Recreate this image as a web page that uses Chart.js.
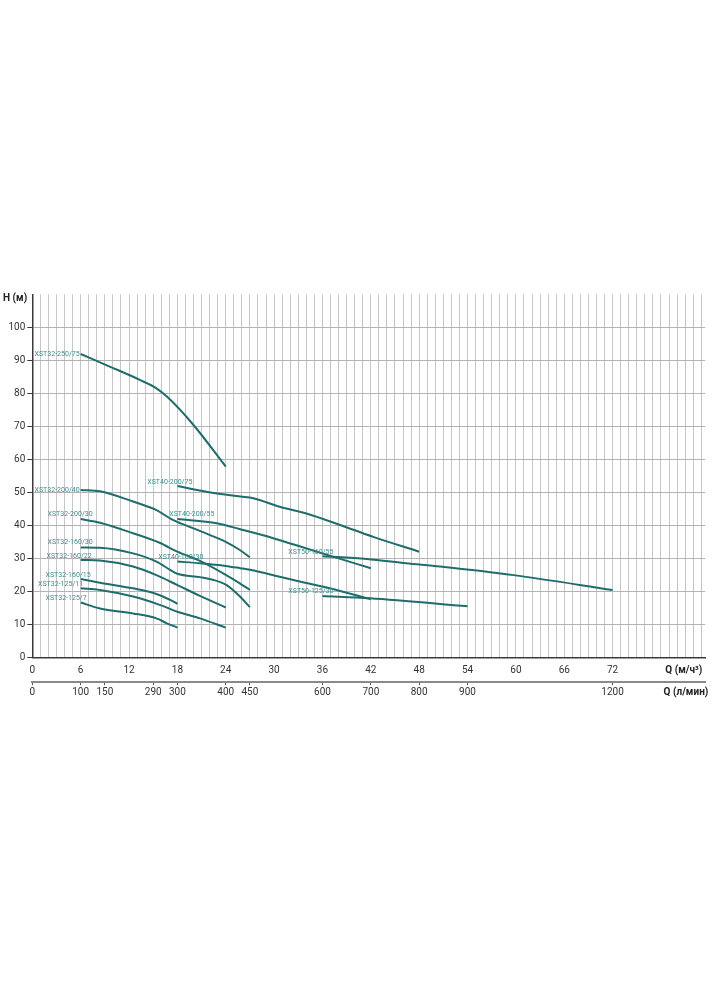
<!DOCTYPE html>
<html><head><meta charset="utf-8">
<script src="https://cdn.jsdelivr.net/npm/chart.js@4.4.0/dist/chart.umd.min.js"></script>
<style>html,body{margin:0;padding:0;background:#fff;}#wrap{width:713px;height:992px;}</style>
</head><body><div id="wrap"><canvas id="c" width="713" height="992"></canvas></div>
<script>
// ---- axis tick data ----
const qLabelStep = 6;
const qLabelMax = 72;
const hTicks = [0,10,20,30,40,50,60,70,80,90,100];
const lpmLabels = ['0','100','150','290','300','400','450','600','700','800','900','1200'];
const lpmPositions = [0,6,9,15,18,24,27,36,42,48,54,72];

// ---- curve names ----
const curveNames = ['XST32-250/75','XST32-200/40','XST32-200/30','XST32-160/30','XST32-160/22','XST32-160/15','XST32-125/11','XST32-125/7','XST40-200/75','XST40-200/55','XST40-160/30','XST50-160/55','XST50-125/30'];

// ---- curve values (Q m3/h, H m) ----
const q_32_250_75 = [6, 9.6, 13.4, 15.4, 16.7, 20, 24];
const h_32_250_75 = [91.9, 88.1, 84, 81.5, 79, 70.4, 57.8];
const q_32_200_40 = [6, 8.4, 12.5, 15.4, 17.3, 18.5, 20.8, 22.9, 24, 25.7, 27];
const h_32_200_40 = [50.7, 50.3, 47.2, 44.6, 41.8, 40.5, 38.3, 36.2, 35, 32.6, 30.3];
const q_32_200_30 = [6, 8.4, 12.5, 15.8, 18, 20.8, 24, 25.7, 27];
const h_32_200_30 = [41.9, 40.8, 37.6, 34.7, 32, 29.2, 25, 22.5, 20.4];
const q_32_160_30 = [6, 8.4, 12.5, 15.4, 17.1, 18, 20.8, 22.4, 24, 25.7, 27];
const h_32_160_30 = [33.3, 33.2, 31.5, 29, 26.5, 25.3, 24.3, 23.5, 22, 18.6, 15.2];
const q_32_160_22 = [6, 8.4, 12.5, 15.4, 18, 20.8, 24];
const h_32_160_22 = [29.5, 29.3, 27.5, 24.9, 21.9, 18.6, 15.1];
const q_32_160_15 = [6, 8.4, 12.5, 15.4, 17.1, 18];
const h_32_160_15 = [23.7, 22.6, 20.9, 19.2, 17.4, 16.2];
const q_32_125_11 = [6, 8.4, 12.5, 15.8, 18, 20.8, 24];
const h_32_125_11 = [20.9, 20.4, 18.4, 15.9, 13.8, 11.8, 9.0];
const q_32_125_7 = [6, 8.4, 12.5, 15.4, 16.7, 18];
const h_32_125_7 = [16.6, 14.8, 13.3, 11.8, 10.3, 9.0];
const q_40_200_75 = [18, 21.6, 25.8, 27.4, 30.7, 34, 38.2, 42.3, 48];
const h_40_200_75 = [51.9, 50.2, 48.7, 48.2, 45.6, 43.6, 40.1, 36.5, 32.0];
const q_40_200_55 = [18, 22.9, 25.8, 29.9, 34, 37.3, 42];
const h_40_200_55 = [41.9, 40.6, 38.8, 36.1, 33.0, 30.5, 27.0];
const q_40_160_30 = [18, 20.8, 24, 25.8, 27, 30.7, 32.4, 36.9, 42];
const h_40_160_30 = [29.0, 28.5, 27.7, 27.0, 26.5, 24.4, 23.4, 20.9, 17.6];
const q_50_160_55 = [36, 41.5, 46.4, 50.6, 59.7, 72];
const h_50_160_55 = [30.6, 29.8, 28.5, 27.5, 24.9, 20.4];
const q_50_125_30 = [36, 41.9, 54];
const h_50_125_30 = [18.6, 17.9, 15.5];

const qSeries = [q_32_250_75,q_32_200_40,q_32_200_30,q_32_160_30,q_32_160_22,q_32_160_15,q_32_125_11,q_32_125_7,q_40_200_75,q_40_200_55,q_40_160_30,q_50_160_55,q_50_125_30];
const hSeries = [h_32_250_75,h_32_200_40,h_32_200_30,h_32_160_30,h_32_160_22,h_32_160_15,h_32_125_11,h_32_125_7,h_40_200_75,h_40_200_55,h_40_160_30,h_50_160_55,h_50_125_30];

// ---- label placement offsets (px) relative to curve start ----
const labelDx = [-1,-1,12,12,11,10,2.5,6,15,37,26,11,11];
const labelDy = [0,0,-5,-5,-4,-4,-3.6,-4,-4,-5,-4,-4,-5];

const LINE = '#1d6d6c';
const LABEL = '#3a8e8d';
const FONT = 'Roboto';

const datasets = curveNames.map((name, i) => ({
  label: name,
  data: qSeries[i].map((q, j) => ({x: q, y: hSeries[i][j]})),
  borderColor: LINE,
  borderWidth: 2,
  pointRadius: 0,
  fill: false,
  cubicInterpolationMode: 'monotone',
  xAxisID: 'x',
  yAxisID: 'y'
}));

const curveLabels = {
  id: 'curveLabels',
  afterDatasetsDraw(chart) {
    const ctx = chart.ctx;
    const xs = chart.scales.x, ys = chart.scales.y;
    ctx.save();
    ctx.font = '7px ' + FONT;
    ctx.fillStyle = LABEL;
    ctx.textAlign = 'right';
    ctx.textBaseline = 'middle';
    curveNames.forEach((name, i) => {
      const px = xs.getPixelForValue(qSeries[i][0]);
      const py = ys.getPixelForValue(hSeries[i][0]);
      ctx.fillText(name, px + labelDx[i], py + labelDy[i]);
    });
    ctx.restore();
  }
};

const axisTitles = {
  id: 'axisTitles',
  afterDraw(chart) {
    const ctx = chart.ctx;
    const a = chart.chartArea;
    ctx.save();
    ctx.fillStyle = '#222';
    ctx.font = 'bold 10px ' + FONT;
    ctx.textBaseline = 'middle';
    ctx.textAlign = 'left';
    ctx.fillText('H (м)', 3, a.top + 4);
    ctx.textAlign = 'right';
    ctx.fillText('Q (м/ч³)', a.right - 3, a.bottom + 13.5);
    ctx.fillText('Q (л/мин)', a.right + 3, a.bottom + 35);
    ctx.restore();
  }
};

new Chart(document.getElementById('c'), {
  type: 'line',
  data: { datasets },
  options: {
    responsive: false,
    animation: false,
    layout: { padding: { top: 294.3, left: 0, right: 7.7, bottom: 290.3 } },
    plugins: { legend: { display: false }, tooltip: { enabled: false } },
    scales: {
      x: {
        type: 'linear', position: 'bottom', min: 0, max: 83.5,
        afterBuildTicks: s => { s.ticks = Array.from({length: 84}, (_, i) => ({value: i})); },
        afterFit: s => { s.height = 24.4; },
        ticks: {
          autoSkip: false, maxRotation: 0, padding: 7.5, color: '#333',
          font: { size: 10, family: FONT },
          callback: v => (v % qLabelStep === 0 && v <= qLabelMax) ? String(v) : ''
        },
        grid: { color: '#c6c6c6', lineWidth: 1, drawTicks: false },
        border: { color: '#3a3a3a', width: 1.5 }
      },
      x2: {
        type: 'linear', position: 'bottom', min: 0, max: 83.5,
        afterBuildTicks: s => { s.ticks = lpmPositions.map(v => ({value: v})); },
        afterFit: s => { s.height = 20; },
        ticks: {
          autoSkip: false, maxRotation: 0, padding: 1.5, color: '#333',
          font: { size: 10, family: FONT },
          callback: (v, i) => lpmLabels[i]
        },
        grid: { drawOnChartArea: false, drawTicks: true, tickLength: 3.5, tickColor: '#555', lineWidth: 1 },
        border: { color: '#8a8a8a', width: 2 }
      },
      y: {
        type: 'linear', position: 'left', min: 0, max: 110,
        afterBuildTicks: s => { s.ticks = hTicks.concat([110]).map(v => ({value: v})); },
        afterFit: s => { s.width = 32.3; },
        ticks: {
          autoSkip: false, padding: 2, color: '#333',
          font: { size: 10, family: FONT },
          callback: v => hTicks.includes(v) ? String(v) : ''
        },
        grid: {
          color: c => (c.tick && c.tick.value > 100) ? 'rgba(0,0,0,0)' : '#b3b3b3',
          tickColor: c => (c.tick && c.tick.value > 100) ? 'rgba(0,0,0,0)' : '#3a3a3a',
          lineWidth: 1, tickLength: 5
        },
        border: { color: '#3a3a3a', width: 1.5 }
      }
    }
  },
  plugins: [curveLabels, axisTitles]
});
</script>
</body></html>
